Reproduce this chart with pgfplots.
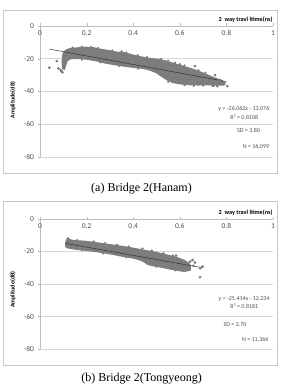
\documentclass[border=0pt]{standalone}
\usepackage{fontspec}
\setmainfont{Carlito}
\newfontfamily\capfont{Liberation Serif}
\usepackage{pgfplots}
\pgfplotsset{compat=1.18}

\definecolor{framegray}{RGB}{200,200,200}
\definecolor{axisgray}{RGB}{190,190,190}
\definecolor{gridgray}{RGB}{215,215,215}
\definecolor{labelgray}{RGB}{80,80,80}
\definecolor{cloud}{RGB}{125,125,125}
\definecolor{fitline}{RGB}{50,50,50}

\tikzset{
  note/.style={font=\fontsize{6}{7}\selectfont, text=labelgray, inner sep=0pt},
}
\pgfplotsset{
  panel/.style={
    anchor=south west, scale only axis,
    width=233pt,
    xmin=0, xmax=1, ymin=-80, ymax=0,
    axis x line*=top, axis y line*=left,
    axis line style={draw=axisgray, -},
    xtick={0,0.2,0.4,0.6,0.8,1},
    xticklabels={0,0.2,0.4,0.6,0.8,1},
    ytick={-80,-60,-40,-20,0},
    yticklabels={-80,-60,-40,-20,0},
    tick align=outside, major tick length=2.5pt,
    tick style={draw=axisgray},
    xticklabel style={anchor=north, yshift=-3.5pt, font=\fontsize{7.5}{8}\selectfont, text=labelgray},
    yticklabel style={font=\fontsize{7.5}{8}\selectfont, text=labelgray},
    ymajorgrids, grid style={draw=gridgray, line width=0.5pt},
    clip=false,
    ylabel={Amplitude(dB)},
    ylabel style={anchor=center, font=\bfseries\fontsize{6}{7}\selectfont},
    xlabel={2\ \ way travl ltime(ns)},
    xlabel style={anchor=east, font=\bfseries\fontsize{6.2}{7}\selectfont},
  },
  band/.style={fill=cloud, draw=cloud, line width=1.2pt, line join=round},
  outlier/.style={only marks, mark=*, mark size=1.2pt, color=cloud},
  edge/.style={only marks, mark=*, mark size=0.9pt, color=cloud},
  trend/.style={draw=fitline, line width=0.5pt},
}

\begin{document}
\begin{tikzpicture}
\path[use as bounding box] (0pt,0pt) rectangle (281pt,387pt);
% chart frames
\draw[framegray, line width=0.6pt] (3pt,213.5pt) rectangle (277.5pt,377pt);
\draw[framegray, line width=0.6pt] (3pt,21.5pt) rectangle (277.5pt,185.5pt);

% ---------- (a) Bridge 2 (Hanam) ----------
\begin{axis}[panel, at={(40pt,230pt)}, height=131pt,
  ylabel style={at={(axis description cs:-0.116,0.435)}},
  xlabel style={at={(axis description cs:1.013,1.051)}}]
% dense point cloud (outline of the bulk of the 16,099 points)
\addplot[band] coordinates {
  (0.098,-17.5) (0.105,-15.5) (0.115,-14.5) (0.13,-13.8) (0.16,-13.4)
  (0.2,-13.0) (0.23,-13.3) (0.26,-14.2) (0.3,-15.2) (0.33,-16.0)
  (0.36,-16.3) (0.38,-17.0) (0.4,-17.8) (0.43,-18.8) (0.47,-19.8)
  (0.5,-20.3) (0.53,-21.0) (0.56,-22.3) (0.6,-24.0) (0.63,-25.3)
  (0.66,-26.6) (0.69,-28.2) (0.72,-30.0) (0.75,-31.8) (0.78,-33.3)
  (0.795,-35.0) (0.79,-36.0) (0.76,-36.0) (0.72,-35.8) (0.68,-36.0)
  (0.64,-35.8) (0.6,-35.3) (0.57,-34.5) (0.545,-32.8) (0.52,-30.5)
  (0.5,-28.5) (0.47,-26.8) (0.44,-25.8) (0.4,-25.2) (0.36,-24.5)
  (0.32,-23.6) (0.28,-22.6) (0.24,-21.2) (0.2,-20.2) (0.16,-19.8)
  (0.13,-20.0) (0.115,-21.5) (0.11,-24.0) (0.105,-26.5) (0.098,-26.0)
  (0.095,-22.0)
} -- cycle;
\addplot[edge] coordinates {
  (0.14,-13.2) (0.18,-12.6) (0.22,-12.8) (0.25,-13.4) (0.31,-14.8)
  (0.35,-15.5) (0.37,-16.2) (0.42,-17.8) (0.46,-19.0) (0.52,-20.2)
  (0.55,-21.2) (0.58,-22.4) (0.62,-24.2) (0.68,-27.0) (0.71,-28.6)
  (0.18,-20.6) (0.26,-22.2) (0.34,-24.4) (0.42,-26.0) (0.55,-34.0)
  (0.62,-36.2) (0.66,-36.6) (0.7,-36.4) (0.74,-36.6)
};
\addplot[outlier] coordinates {
  (0.04,-25.5) (0.072,-21.4) (0.079,-25.9) (0.089,-26.9) (0.093,-27.6)
  (0.096,-28.2) (0.102,-21.5) (0.60,-23.4) (0.665,-24.5) (0.751,-30.0)
  (0.773,-33.0) (0.761,-36.7) (0.804,-36.7) (0.79,-34.5) (0.745,-36.5)
};
\addplot[trend] coordinates {(0.04,-14.118) (0.8,-33.926)};
\node[note, anchor=east] at (axis cs:0.985,-50.4) {y = -26.062x - 13.076};
\node[note] at (axis cs:0.877,-55.5) {R² = 0.8108};
\node[note] at (axis cs:0.895,-64.0) {SD = 3.80};
\node[note, anchor=east] at (axis cs:0.984,-73.9) {N = 16,099};
\end{axis}

% ---------- (b) Bridge 2 (Tongyeong) ----------
\begin{axis}[panel, at={(40pt,38pt)}, height=130pt,
  ylabel style={at={(axis description cs:-0.116,0.456)}},
  xlabel style={at={(axis description cs:1.013,1.048)}}]
% dense point cloud (outline of the bulk of the 11,366 points)
\addplot[band] coordinates {
  (0.11,-14.5) (0.115,-12.8) (0.125,-12.5) (0.14,-13.2) (0.2,-13.8)
  (0.25,-14.8) (0.3,-15.8) (0.35,-16.8) (0.4,-18.0) (0.43,-18.8)
  (0.46,-19.6) (0.5,-20.6) (0.55,-22.4) (0.58,-23.4) (0.6,-24.4)
  (0.62,-25.5) (0.64,-27.5) (0.645,-29.0) (0.645,-31.5) (0.62,-32.2)
  (0.6,-31.8) (0.56,-30.8) (0.52,-29.6) (0.48,-28.6) (0.46,-27.8)
  (0.45,-26.6) (0.43,-25.2) (0.4,-24.0) (0.35,-22.8) (0.3,-21.4)
  (0.25,-20.2) (0.2,-19.3) (0.15,-18.5) (0.12,-17.8) (0.11,-17.0)
} -- cycle;
\addplot[edge] coordinates {
  (0.16,-13.0) (0.23,-13.8) (0.28,-14.8) (0.33,-15.8) (0.38,-16.9)
  (0.44,-18.2) (0.48,-19.4) (0.53,-21.0) (0.57,-22.4)
  (0.18,-19.2) (0.27,-21.2) (0.37,-23.6) (0.5,-29.4) (0.58,-31.6)
};
\addplot[outlier] coordinates {
  (0.12,-12.0) (0.584,-22.5) (0.63,-27.0) (0.644,-26.2) (0.655,-25.2)
  (0.665,-26.8) (0.658,-28.8) (0.687,-30.3) (0.698,-29.3) (0.687,-35.8)
};
\addplot[trend] coordinates {(0.11,-15.030) (0.70,-30.024)};
\node[note, anchor=east] at (axis cs:0.986,-49.4) {y = -25.414x - 12.234};
\node[note] at (axis cs:0.877,-53.9) {R² = 0.8181};
\node[note] at (axis cs:0.837,-64.8) {SD = 2.70};
\node[note, anchor=east] at (axis cs:0.981,-74.4) {N = 11,366};
\end{axis}

% captions
\node[font=\capfont\fontsize{12}{14}\selectfont] at (141.5pt,198pt) {(a) Bridge 2(Hanam)};
\node[font=\capfont\fontsize{12}{14}\selectfont] at (141.5pt,8.5pt) {(b) Bridge 2(Tongyeong)};
\end{tikzpicture}
\end{document}
